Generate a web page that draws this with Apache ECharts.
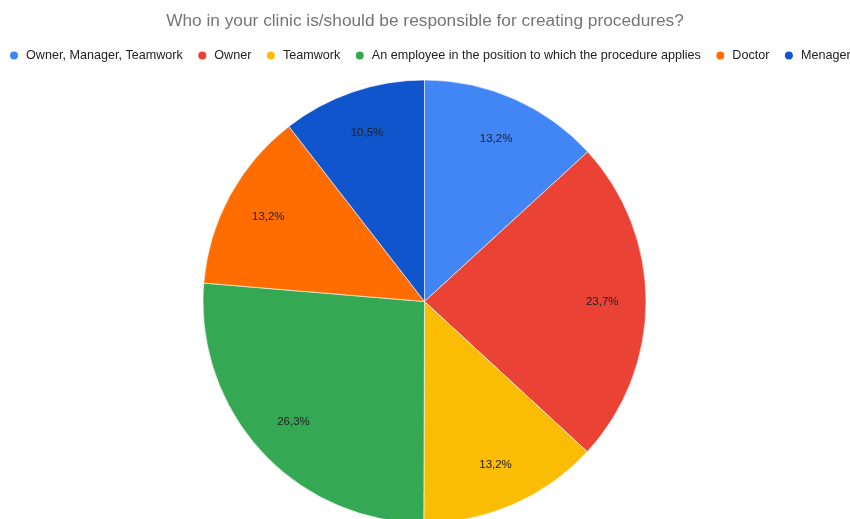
<!DOCTYPE html>
<html>
<head>
<meta charset="utf-8">
<script src="https://cdn.jsdelivr.net/npm/echarts@6/dist/echarts.min.js"></script>
<style>
  html, body { margin: 0; padding: 0; background: #fff; }
  #chart { width: 850px; height: 519px; }
</style>
</head>
<body>
<div id="chart"></div>
<script>
// Survey answers and their shares (percent)
const categories = [
  'Owner, Manager, Teamwork',
  'Owner',
  'Teamwork',
  'An employee in the position to which the procedure applies',
  'Doctor',
  'Menager'
];
const shares = [13.2, 23.7, 13.2, 26.3, 13.2, 10.5];
const colors = ['#4285F4', '#EA4335', '#FBBC04', '#34A853', '#FF6D01', '#1155CC'];

const fontFamily = '"Liberation Sans", Arial, sans-serif';
const fmt = v => v.toFixed(1).replace('.', ',') + '%';

const sliceData = categories.map((name, i) => ({
  name, value: shares[i], itemStyle: { color: colors[i] }
}));

const chart = echarts.init(document.getElementById('chart'), null, { renderer: 'canvas' });
chart.setOption({
  animation: false,
  backgroundColor: '#ffffff',
  title: {
    text: 'Who in your clinic is/should be responsible for creating procedures?',
    left: 'center',
    top: 8,
    textStyle: { fontFamily, fontSize: 17.3, fontWeight: 'normal', color: '#757575' }
  },
  legend: {
    top: 49,
    left: 8,
    width: 850,
    padding: 0,
    icon: 'circle',
    itemWidth: 14,
    itemHeight: 10,
    itemGap: 13.5,
    textStyle: { fontFamily, fontSize: 12.6, color: '#222222' },
    data: categories.map((name, i) => ({ name, itemStyle: { color: colors[i] } }))
  },
  series: [
    {
      type: 'pie',
      center: [424.5, 301.5],
      radius: [0, 221.5],
      startAngle: 90,
      clockwise: true,
      label: { show: false },
      labelLine: { show: false },
      itemStyle: { borderColor: '#ffffff', borderWidth: 0.6 },
      emphasis: { disabled: true },
      data: sliceData
    },
    {
      // transparent ring that carries the percentage labels near the rim
      type: 'pie',
      center: [424.5, 301.5],
      radius: [128, 221.5],
      startAngle: 90,
      clockwise: true,
      silent: true,
      itemStyle: { color: 'rgba(0,0,0,0)' },
      label: {
        show: true,
        position: 'inside',
        formatter: p => fmt(p.value),
        fontFamily, fontSize: 11.5, color: '#222222'
      },
      labelLine: { show: false },
      emphasis: { disabled: true },
      data: categories.map((name, i) => ({ name, value: shares[i] }))
    }
  ]
});
</script>
</body>
</html>
